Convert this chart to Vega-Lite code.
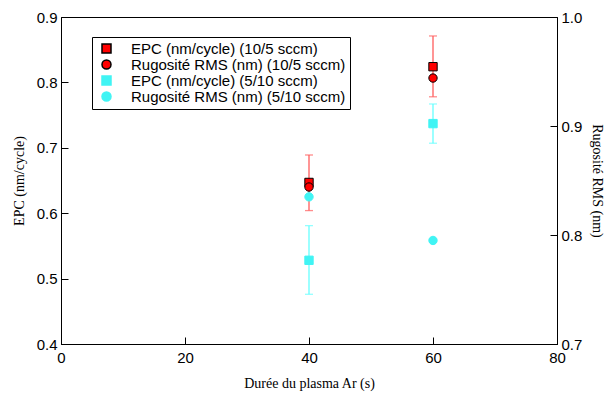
{
  "$schema": "https://vega.github.io/schema/vega-lite/v6.json",
  "width": 496,
  "height": 327,
  "autosize": "none",
  "padding": {"left": 61, "top": 17, "right": 48, "bottom": 50},
  "background": "white",
  "config": {
    "view": {"stroke": "black", "strokeWidth": 1},
    "axis": {
      "grid": false,
      "domainColor": "black",
      "domainWidth": 1,
      "tickColor": "black",
      "tickWidth": 1,
      "labelFont": "Liberation Sans",
      "labelFontSize": 15,
      "labelColor": "black",
      "titleFont": "Liberation Serif",
      "titleFontSize": 14,
      "titleFontWeight": "normal",
      "titleColor": "black"
    },
    "legend": {
      "labelFont": "Liberation Sans",
      "labelFontSize": 15,
      "labelColor": "black"
    }
  },
  "data": {
    "values": [
      {"duree": 40, "serie": "EPC (nm/cycle) (10/5 sccm)", "kind": "EPC", "v": 0.647, "lo": 0.604, "hi": 0.689},
      {"duree": 60, "serie": "EPC (nm/cycle) (10/5 sccm)", "kind": "EPC", "v": 0.824, "lo": 0.778, "hi": 0.871},
      {"duree": 40, "serie": "EPC (nm/cycle) (5/10 sccm)", "kind": "EPC", "v": 0.528, "lo": 0.476, "hi": 0.581},
      {"duree": 60, "serie": "EPC (nm/cycle) (5/10 sccm)", "kind": "EPC", "v": 0.737, "lo": 0.707, "hi": 0.767},
      {"duree": 40, "serie": "Rugosité RMS (nm) (10/5 sccm)", "kind": "RMS", "v": 0.844},
      {"duree": 60, "serie": "Rugosité RMS (nm) (10/5 sccm)", "kind": "RMS", "v": 0.944},
      {"duree": 40, "serie": "Rugosité RMS (nm) (5/10 sccm)", "kind": "RMS", "v": 0.835},
      {"duree": 60, "serie": "Rugosité RMS (nm) (5/10 sccm)", "kind": "RMS", "v": 0.795}
    ]
  },
  "layer": [
    {
      "transform": [{"filter": "datum.kind == 'EPC'"}],
      "encoding": {
        "x": {
          "field": "duree", "type": "quantitative",
          "scale": {"domain": [0, 80], "nice": false},
          "axis": {"orient": "bottom", "values": [0, 20, 40, 60, 80], "title": "Durée du plasma Ar (s)", "titlePadding": 11, "labelPadding": 6, "ticks": false, "labelFlush": false}
        }
      },
      "layer": [
        {
          "mark": {"type": "rule", "strokeWidth": 1.3},
          "encoding": {
            "y": {
              "field": "lo", "type": "quantitative",
              "scale": {"domain": [0.4, 0.9], "nice": false, "zero": false},
              "axis": {"orient": "left", "values": [0.4, 0.5, 0.6, 0.7, 0.8, 0.9], "offset": -7, "ticks": true, "tickSize": 7, "tickColor": "black", "tickWidth": 1, "labels": false, "domain": false, "title": null, "zindex": 1}
            },
            "y2": {"field": "hi"},
            "color": {"condition": {"test": "indexof(datum.serie, '10/5') >= 0", "value": "#ff5c5c"}, "value": "#66ffff"}
          }
        },
        {
          "mark": {"type": "tick", "orient": "horizontal", "size": 8, "thickness": 1.3},
          "encoding": {
            "y": {"field": "lo", "type": "quantitative", "axis": null},
            "color": {"condition": {"test": "indexof(datum.serie, '10/5') >= 0", "value": "#ff5c5c"}, "value": "#66ffff"}
          }
        },
        {
          "mark": {"type": "tick", "orient": "horizontal", "size": 8, "thickness": 1.3},
          "encoding": {
            "y": {"field": "hi", "type": "quantitative", "axis": null},
            "color": {"condition": {"test": "indexof(datum.serie, '10/5') >= 0", "value": "#ff5c5c"}, "value": "#66ffff"}
          }
        },
        {
          "mark": {"type": "point", "filled": true, "size": 70, "strokeWidth": 1, "opacity": 1},
          "encoding": {
            "y": {
              "field": "v", "type": "quantitative",
              "axis": {"orient": "left", "values": [0.4, 0.5, 0.6, 0.7, 0.8, 0.9], "format": ".1f", "title": "EPC (nm/cycle)", "titlePadding": 10, "labelPadding": 4, "ticks": false, "labelFlush": false}
            },
            "color": {"field": "serie", "type": "nominal"},
            "stroke": {"field": "serie", "type": "nominal"},
            "shape": {"field": "serie", "type": "nominal"}
          }
        }
      ],
      "resolve": {"axis": {"y": "independent"}}
    },
    {
      "transform": [{"filter": "datum.kind == 'RMS'"}],
      "encoding": {
        "x": {
          "field": "duree", "type": "quantitative",
          "axis": {"orient": "bottom", "values": [0, 20, 40, 60, 80], "offset": -7, "ticks": true, "tickSize": 7, "tickColor": "black", "tickWidth": 1, "labels": false, "domain": false, "title": null, "zindex": 1}
        }
      },
      "layer": [
        {
          "mark": {"type": "point", "opacity": 0},
          "encoding": {
            "y": {
              "field": "v", "type": "quantitative",
              "scale": {"domain": [0.7, 1.0], "nice": false, "zero": false},
              "axis": {"orient": "right", "values": [0.7, 0.8, 0.9, 1.0], "offset": -7, "ticks": true, "tickSize": 7, "tickColor": "black", "tickWidth": 1, "labels": false, "domain": false, "title": null, "zindex": 1}
            }
          }
        },
        {
          "mark": {"type": "point", "filled": true, "size": 70, "strokeWidth": 1, "opacity": 1},
          "encoding": {
            "y": {
              "field": "v", "type": "quantitative",
              "axis": {"orient": "right", "values": [0.7, 0.8, 0.9, 1.0], "format": ".1f", "title": "Rugosité RMS (nm)", "titleAngle": 90, "titlePadding": 8, "labelPadding": 4, "ticks": false, "labelFlush": false}
            },
            "color": {
              "field": "serie", "type": "nominal",
              "scale": {
                "domain": ["EPC (nm/cycle) (10/5 sccm)", "Rugosité RMS (nm) (10/5 sccm)", "EPC (nm/cycle) (5/10 sccm)", "Rugosité RMS (nm) (5/10 sccm)"],
                "range": ["#ff0000", "#ff0000", "#40f4f4", "#40f4f4"]
              },
              "legend": {
                "title": null, "orient": "none", "legendX": 31, "legendY": 20,
                "strokeColor": "black", "fillColor": "white", "padding": 4,
                "rowPadding": 0, "symbolSize": 81, "symbolOffset": 3, "labelOffset": 17, "labelLimit": 0, "offset": 0
              }
            },
            "stroke": {
              "field": "serie", "type": "nominal",
              "scale": {
                "domain": ["EPC (nm/cycle) (10/5 sccm)", "Rugosité RMS (nm) (10/5 sccm)", "EPC (nm/cycle) (5/10 sccm)", "Rugosité RMS (nm) (5/10 sccm)"],
                "range": ["black", "black", "#40f4f4", "#40f4f4"]
              },
              "legend": {
                "title": null, "orient": "none", "legendX": 31, "legendY": 20,
                "strokeColor": "black", "fillColor": "white", "padding": 4,
                "rowPadding": 0, "symbolSize": 81, "symbolOffset": 3, "labelOffset": 17, "labelLimit": 0, "offset": 0
              }
            },
            "shape": {
              "field": "serie", "type": "nominal",
              "scale": {
                "domain": ["EPC (nm/cycle) (10/5 sccm)", "Rugosité RMS (nm) (10/5 sccm)", "EPC (nm/cycle) (5/10 sccm)", "Rugosité RMS (nm) (5/10 sccm)"],
                "range": ["square", "circle", "square", "circle"]
              },
              "legend": {
                "title": null, "orient": "none", "legendX": 31, "legendY": 20,
                "strokeColor": "black", "fillColor": "white", "padding": 4,
                "rowPadding": 0, "symbolSize": 81, "symbolOffset": 3, "labelOffset": 17, "labelLimit": 0, "offset": 0
              }
            }
          }
        }
      ],
      "resolve": {"axis": {"y": "independent"}}
    }
  ],
  "resolve": {"scale": {"y": "independent"}, "axis": {"x": "independent"}}
}
